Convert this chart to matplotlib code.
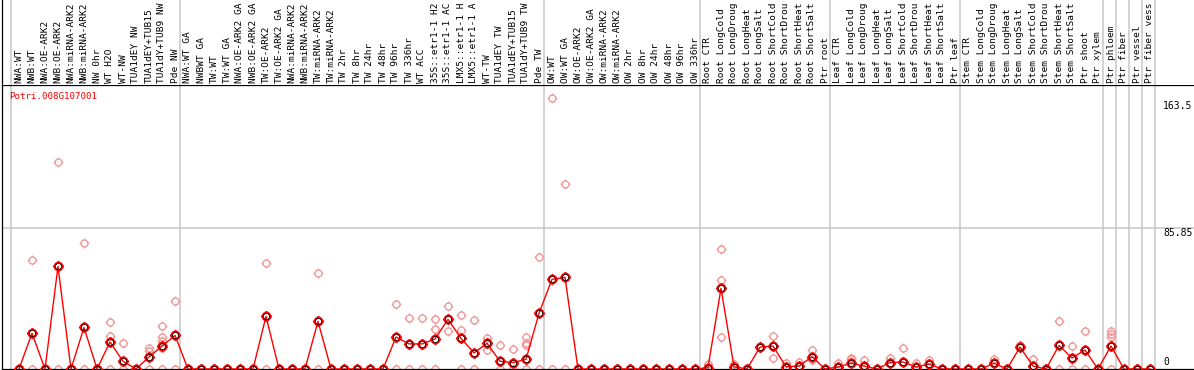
import matplotlib
matplotlib.use("Agg")
import matplotlib.pyplot as plt
from matplotlib.path import Path

# column labels (one per sample, as shown in the header)
labels = [
    "NWA:WT", "NWB:WT", "NWA:OE-ARK2", "NWB:OE-ARK2", "NWA:miRNA-ARK2", "NWB:miRNA-ARK2",
    "NW 0hr", "WT H2O", "WT-NW", "TUA1dEY NW", "TUA1dEY+TUB15", "TUA1dY+TUB9 NW", "Pde NW",
    "NWA:WT GA", "NWBWT GA", "TW:WT", "TW:WT GA", "NWA:OE-ARK2 GA", "NWB:OE-ARK2 GA",
    "TW:OE-ARK2", "TW:OE-ARK2 GA", "NWA:miRNA-ARK2", "NWB:miRNA-ARK2", "TW:miRNA-ARK2",
    "TW:miRNA-ARK2", "TW 2hr", "TW 8hr", "TW 24hr", "TW 48hr", "TW 96hr", "TW 336hr",
    "WT ACC", "35S::etr1-1 H2", "35S::etr1-1 AC", "LMX5::etr1-1 H", "LMX5::etr1-1 A",
    "WT-TW", "TUA1dEY TW", "TUA1dEY+TUB15", "TUA1dY+TUB9 TW", "Pde TW",
    "OW:WT", "OW:WT GA", "OW:OE-ARK2", "OW:OE-ARK2 GA", "OW:miRNA-ARK2", "OW:miRNA-ARK2",
    "OW 2hr", "OW 8hr", "OW 24hr", "OW 48hr", "OW 96hr", "OW 336hr",
    "Root CTR", "Root LongCold", "Root LongDroug", "Root LongHeat", "Root LongSalt",
    "Root ShortCold", "Root ShortDrou", "Root ShortHeat", "Root ShortSalt", "Ptr root",
    "Leaf CTR", "Leaf LongCold", "Leaf LongDroug", "Leaf LongHeat", "Leaf LongSalt",
    "Leaf ShortCold", "Leaf ShortDrou", "Leaf ShortHeat", "Leaf ShortSalt", "Ptr leaf",
    "Stem CTR", "Stem LongCold", "Stem LongDroug", "Stem LongHeat", "Stem LongSalt",
    "Stem ShortCold", "Stem ShortDrou", "Stem ShortHeat", "Stem ShortSalt", "Ptr shoot",
    "Ptr xylem", "Ptr phloem", "Ptr fiber", "Ptr vessel", "Ptr fiber vess",
]

# first column of each group (last entry = end)
group_starts = [0, 13, 41, 53, 63, 73, 84, 85, 86, 87, 88]

# mean expression per column
means = [
    0, 21.8, 0, 62.6, 0, 25.4, 0, 16.5, 4.7, 0, 7.3, 14.0, 20.5,
    0, 0, 0, 0, 0, 0, 32.1, 0, 0, 0, 29.1, 0, 0, 0, 0, 0, 19.5, 15.3, 15.3, 18.3,
    30.3, 18.7, 9.8, 15.7, 4.7, 3.9, 5.9, 34.0,
    54.7, 55.9, 0, 0, 0, 0, 0, 0, 0, 0, 0, 0,
    0.8, 49.2, 1.4, 0, 13.4, 14.0, 1.4, 1.8, 7.5, 0,
    1.2, 3.5, 1.8, 0, 3.9, 4.3, 1.2, 3.0, 0, 0,
    0, 0, 3.5, 0, 13.4, 1.8, 0, 14.4, 6.7, 11.6, 0,
    14.0, 0, 0, 0,
]

# individual replicates per column
reps = [
    [0], [66.3, 0], [0], [126.1, 0], [0], [76.7, 0], [0], [28.5, 20.1, 0], [15.7, 0], [0],
    [12.6, 11.2, 0], [26.2, 19.7, 17.3, 12.6, 0], [41.3, 0],
    [0], [0], [0], [0], [0], [0], [64.5, 0], [0], [0], [0], [58.4, 0], [0], [0], [0], [0], [0],
    [39.5, 0], [30.9, 0], [30.9, 0], [30.3, 24.2, 0], [38.3, 23.0], [32.8, 23.8, 0],
    [29.9, 0], [18.9, 11.6], [14.5, 0], [12.0, 0], [19.7, 16.0, 14.6, 0], [68.2, 0],
    [165.2, 0], [112.7, 0], [0], [0], [0], [0], [0], [0], [0], [0], [0], [0],
    [2.9], [73.2, 54.1, 19.3], [3.0], [0], [13.4], [19.9, 6.7], [3.5], [4.5], [11.6, 5.5], [0],
    [3.5], [6.5, 5.8], [5.5], [0], [6.5], [12.8], [3.5], [5.5], [0], [0],
    [0], [0], [5.9], [0], [14.8], [6.3], [0], [29.3, 0], [14.0, 0], [23.0, 0], [0],
    [23.0, 21.4, 19.7, 0], [0], [0], [0],
]

gene = "Potri.008G107001"
ytick_vals = [163.5, 85.85]

W, H = 1194, 370
px_unit = 1.639          # pixels per expression unit
x0px, step = 19, 13      # pixel of column 0, spacing
left_px, top_px, bot_px = 2, 85, 369

fig = plt.figure(figsize=(W / 100, H / 100), dpi=100)
xlim = ((left_px - x0px) / step, (W - x0px) / step)
gray = "#c8c8c8"
pink = "#f09a9a"
mono = "DejaVu Sans Mono"

ax = fig.add_axes([left_px / W, (H - bot_px) / H, (W - left_px) / W, (bot_px - top_px) / H])
hd = fig.add_axes([left_px / W, (H - top_px) / H, (W - left_px) / W, top_px / H])

ax.set_xlim(*xlim)
ax.set_ylim(0, (bot_px - top_px) / px_unit)
hd.set_xlim(*xlim)
hd.set_ylim(0, top_px)

for a in (ax, hd):
    a.set_xticks([])
    a.set_yticks([])
    for s in a.spines.values():
        s.set_linewidth(0.9)
        s.set_color("black")
ax.spines["right"].set_visible(False)
hd.spines["right"].set_visible(False)
hd.spines["top"].set_visible(False)
hd.spines["bottom"].set_visible(False)

# group separators
for g in group_starts:
    for a in (ax, hd):
        a.axvline(g - 8.3 / step, color=gray, lw=1.1, zorder=0)

ax.axhline(85.85, color=gray, lw=1.1, zorder=0)

# header labels
for i, lab in enumerate(labels):
    hd.text(i, 2, lab, rotation=90, ha="center", va="bottom", fontsize=6.8,
            family=mono, clip_on=True)

# marker: circle with four small ticks
tick = 1.4
ticks = Path([(0, 1), (0, tick), (0, -1), (0, -tick), (1, 0), (tick, 0), (-1, 0), (-tick, 0)],
             [Path.MOVETO, Path.LINETO] * 4)
mk = Path.make_compound_path(Path.unit_circle(), ticks)

xs = list(range(len(labels)))
rx = [i for i, r in enumerate(reps) for _ in r]
ry = [v for r in reps for v in r]
ax.plot(rx, ry, ls="none", marker=mk, ms=7, mfc="none", mec=pink, mew=1.0, zorder=2)

ax.plot(xs, means, color="red", lw=1.0, zorder=3)
ax.plot(xs, means, ls="none", marker=mk, ms=8, mfc="none", mec="red", mew=1.3, zorder=4)
ax.plot(xs, means, ls="none", marker="o", ms=4.4, mfc="none", mec="black", mew=0.55, zorder=5)

# value labels on the right
lx = (1163 - x0px) / step
for v in ytick_vals:
    ax.text(lx, v, f"{v:g}", ha="left", va="top", fontsize=7, family=mono)
ax.text(lx, 1.5, "0", ha="left", va="bottom", fontsize=7, family=mono)

ax.text((9 - x0px) / step, (bot_px - 97) / px_unit, gene, color="red", ha="left",
        va="center", fontsize=6.6, family=mono)

fig.savefig("out.png", dpi=100)
